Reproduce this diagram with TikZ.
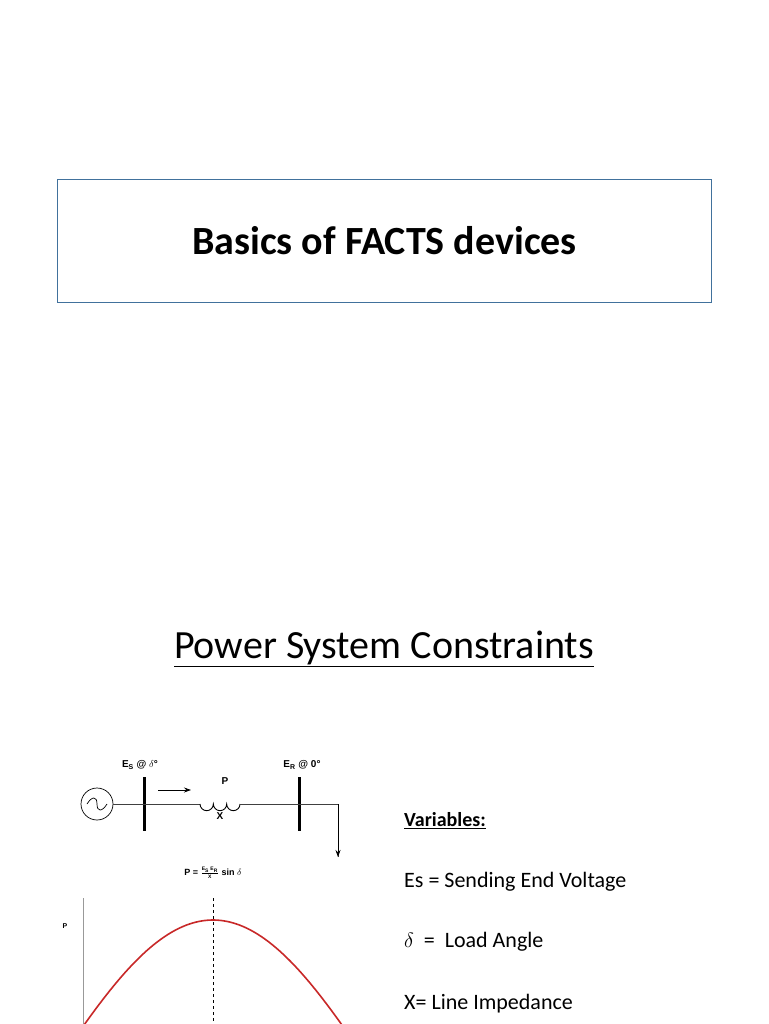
\documentclass[tikz,border=0pt]{standalone}
\usepackage{fontspec}
\setmainfont{Carlito}
\newfontfamily\arialf{Liberation Sans}
\newfontfamily\serf{Liberation Serif}
\usetikzlibrary{arrows.meta}
\definecolor{boxblue}{RGB}{65,113,156}
\definecolor{curvered}{RGB}{200,40,40}
\tikzset{wire/.style={line width=0.8pt,black!75},bus/.style={line width=3pt},
 clab/.style={font=\arialf\bfseries\fontsize{10}{12}\selectfont,inner sep=0pt},
 vtext/.style={font=\fontsize{22}{26}\selectfont,anchor=west,inner sep=0pt}}
\begin{document}
\begin{tikzpicture}[x=1pt,y=-1pt]
\useasboundingbox (0,0) rectangle (768,1024);
\fill[white] (0,0) rectangle (768,1024);
\node[draw=boxblue,line width=1pt,minimum width=654,minimum height=123,anchor=north west] (tbox) at (57,179) {};
\node[font=\bfseries\fontsize{40}{48}\selectfont] (title) at (tbox.center) {Basics of FACTS devices};
\node[font=\fontsize{40}{48}\selectfont] (sub) at (384,649) {\underline{Power System Constraints}};
% circuit
\node[draw,circle,minimum size=32,inner sep=0,line width=0.7pt] (src) at (97,804) {};
\draw[line width=0.7pt] (87,804) .. controls (92,796) and (97,796) .. (97,804) .. controls (97,812) and (102,812) .. (107,804);
\coordinate (b1t) at (144,777); \coordinate (b1b) at (144,831);
\coordinate (b2t) at (299,777); \coordinate (b2b) at (299,831);
\draw[bus] (b1t) -- (b1b); \draw[bus] (b2t) -- (b2b);
\coordinate (l1) at (200,804); \coordinate (l2) at (240,804);
\draw[wire] (src.east) -- (l1);
\draw[line width=0.9pt] (l1) arc[start angle=180,end angle=0,radius=6.67] arc[start angle=180,end angle=0,radius=6.67] arc[start angle=180,end angle=0,radius=6.67];
\coordinate (ld) at (338,804); \coordinate (ldb) at (338,857);
\draw[wire] (l2) -- (ld) -- (ldb);
\draw[-{Stealth[length=7pt,width=5pt]},line width=0.8pt] (ld) -- (ldb);
\coordinate (a1) at (158,790); \coordinate (a2) at (191,790);
\draw[-{Stealth[length=7pt,width=5pt]},line width=0.8pt] (a1) -- (a2);
\node[clab] (es) at (140,765) {E\textsubscript{S} @ $\delta$\textdegree};
\node[clab] (er) at (302,765) {E\textsubscript{R} @ 0\textdegree};
\node[clab] (p) at (225,781) {P};
\node[clab] (x) at (220,816) {X};
\node[clab,font=\arialf\bfseries\fontsize{9}{10}\selectfont] (eq) at (213,873) {P = $\frac{\mbox{\tiny E\textsubscript{S} E\textsubscript{R}}}{\mbox{\tiny X}}$ sin $\delta$};
% plot
\draw[black!40,line width=0.5pt] (83,898) -- (83,1024);
\node[clab,font=\arialf\bfseries\fontsize{7}{8}\selectfont] (pl) at (65,926) {P};
\draw[dashed,line width=0.7pt] (213,898) -- (213,1024);
\begin{scope}
\clip (0,0) rectangle (768,1024);
\draw[curvered,line width=1.6pt,variable=\t,domain=10:170,samples=80] plot ({53+1.7778*\t},{1070-150*sin(\t)});
\end{scope}
% variables
\node[vtext,font=\bfseries\fontsize{20}{24}\selectfont] (var) at (404,821) {\underline{Variables:}};
\node[vtext] (v1) at (404,882) {Es = Sending End Voltage};
\node[vtext] (v2) at (404,942) {{\serf $\delta$}\ \ =\ \ Load Angle};
\node[vtext] (v3) at (404,1004) {X= Line Impedance};
\end{tikzpicture}
\end{document}
